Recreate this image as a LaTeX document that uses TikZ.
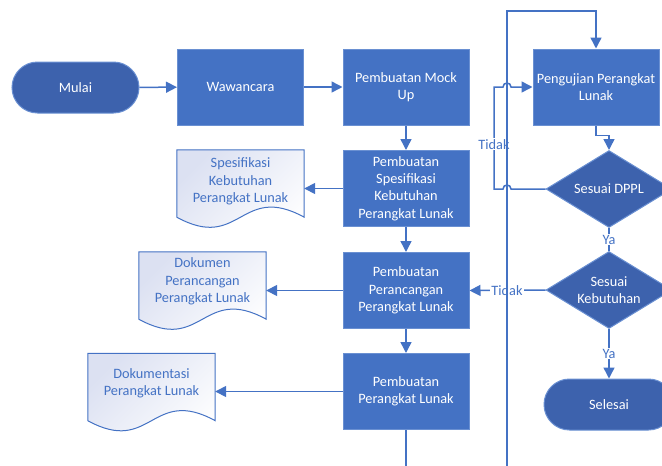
\documentclass[tikz,border=0pt]{standalone}
\usepackage{fontspec}
\setmainfont{Carlito}
\usetikzlibrary{arrows.meta,shapes.misc,shapes.geometric}
\definecolor{rfill}{HTML}{4472C4}
\definecolor{rdraw}{HTML}{6A90D2}
\definecolor{tfill}{HTML}{3D62AD}
\definecolor{lcol}{HTML}{4472C4}
\definecolor{docA}{HTML}{DCE1F2}
\begin{document}
\begin{tikzpicture}[x=1pt,y=-1pt,
  font=\fontsize{14.3}{17.3}\selectfont,
  proc/.style={rectangle, fill=rfill, draw=rdraw, line width=1pt, minimum width=126pt, minimum height=76pt, text=white, align=center, inner sep=0pt},
  term/.style={rounded rectangle, fill=tfill, draw=rdraw, line width=1pt, minimum width=127pt, minimum height=51pt, text=white, inner sep=0pt},
  dia/.style={diamond, fill=tfill, draw=rdraw, line width=1pt, minimum width=126pt, minimum height=77pt, inner sep=0pt},
  wtxt/.style={text=white, align=center, inner sep=0pt},
  docarea/.style={rectangle, minimum width=127pt, minimum height=67pt, inner sep=0pt},
  doctxt/.style={text=lcol, align=center, inner sep=0pt},
  docline/.style={draw=lcol, line width=1pt, top color=docA, bottom color=white, shading angle=45},
  conn/.style={draw=lcol, line width=1.5pt, -{Triangle[length=11pt,width=11pt]}},
  plain/.style={draw=lcol, line width=1.5pt},
  lbl/.style={fill=white, text=lcol, inner sep=1pt}
]
\useasboundingbox (0,0) rectangle (662,466);
\clip (0,0) rectangle (662,466);

% process shapes
\node[term] (mulai) at (75.5,87.5) {Mulai};
\node[proc] (waw) at (240.5,87) {Wawancara};
\node[proc] (mock) at (406,87) {Pembuatan Mock\\Up};
\node[proc] (spes) at (406,188.5) {Pembuatan\\Spesifikasi\\Kebutuhan\\Perangkat Lunak};
\node[proc] (peranc) at (406,290.5) {Pembuatan\\Perancangan\\Perangkat Lunak};
\node[proc] (pl) at (406,391.5) {Pembuatan\\Perangkat Lunak};
\node[proc] (peng) at (596,87) {Pengujian Perangkat\\Lunak};
\node[dia] (d1) at (609,189) {};
\node[wtxt] at (d1) {Sesuai DPPL};
\node[dia] (d2) at (609,290) {};
\node[wtxt] at (d2) {Sesuai\\Kebutuhan};
\node[term, minimum width=130pt] (sel) at (609,404.5) {Selesai};

% documents
\node[docarea] (doc1) at (240.5,183.5) {};
\draw[docline] (doc1.south west) -- (doc1.north west) -- (doc1.north east) -- (doc1.south east)
  .. controls ([yshift=35pt]doc1.south) and ([yshift=-35pt]doc1.south) .. (doc1.south west) -- cycle;
\node[doctxt] at ([yshift=2pt]doc1.center) {Spesifikasi\\Kebutuhan\\Perangkat Lunak};

\node[docarea] (doc2) at (202.5,285.5) {};
\draw[docline] (doc2.south west) -- (doc2.north west) -- (doc2.north east) -- (doc2.south east)
  .. controls ([yshift=35pt]doc2.south) and ([yshift=-35pt]doc2.south) .. (doc2.south west) -- cycle;
\node[doctxt] at ([yshift=4pt]doc2.center) {Dokumen\\Perancangan\\Perangkat Lunak};

\node[docarea] (doc3) at (151.5,387) {};
\draw[docline] (doc3.south west) -- (doc3.north west) -- (doc3.north east) -- (doc3.south east)
  .. controls ([yshift=35pt]doc3.south) and ([yshift=-35pt]doc3.south) .. (doc3.south west) -- cycle;
\node[doctxt] at ([yshift=4pt]doc3.center) {Dokumentasi\\Perangkat Lunak};

% connectors
\draw[conn] (mulai) -- (waw);
\draw[conn] (waw) -- (mock);
\draw[conn] (mock) -- (spes);
\draw[conn] (spes.west) -- (spes.west -| doc1.east);
\draw[conn] (spes) -- (peranc);
\draw[conn] (peranc.west) -- (peranc.west -| doc2.east);
\draw[conn] (peranc) -- (pl);
\draw[conn] (pl.west) -- (pl.west -| doc3.east);
\draw[conn] (peng.south) -- ++(0,10) -| (d1.north);
\draw[conn] (d1.west) -- (511,189) .. controls (511,183.7) and (503,183.7) .. (503,189)
  -- (494,189) -- node[lbl, pos=0.44] {Tidak} (494,87) -- (503,87)
  .. controls (503,81.7) and (511,81.7) .. (511,87) -- (peng.west);
\draw[plain] (d1.south) -- node[lbl] {Ya} (d2.north);
\draw[conn] (d2.west) -- node[lbl, pos=0.506] {Tidak} (peranc.east);
\draw[conn] (d2.south) -- node[lbl] {Ya} (sel.north);
\coordinate (low1) at (406,480);
\coordinate (low2) at (507,480);
\coordinate (top1) at (507,11);
\draw[conn] (pl.south) -- (low1) -- (low2) -- (top1) -| (peng.north);
\end{tikzpicture}
\end{document}
